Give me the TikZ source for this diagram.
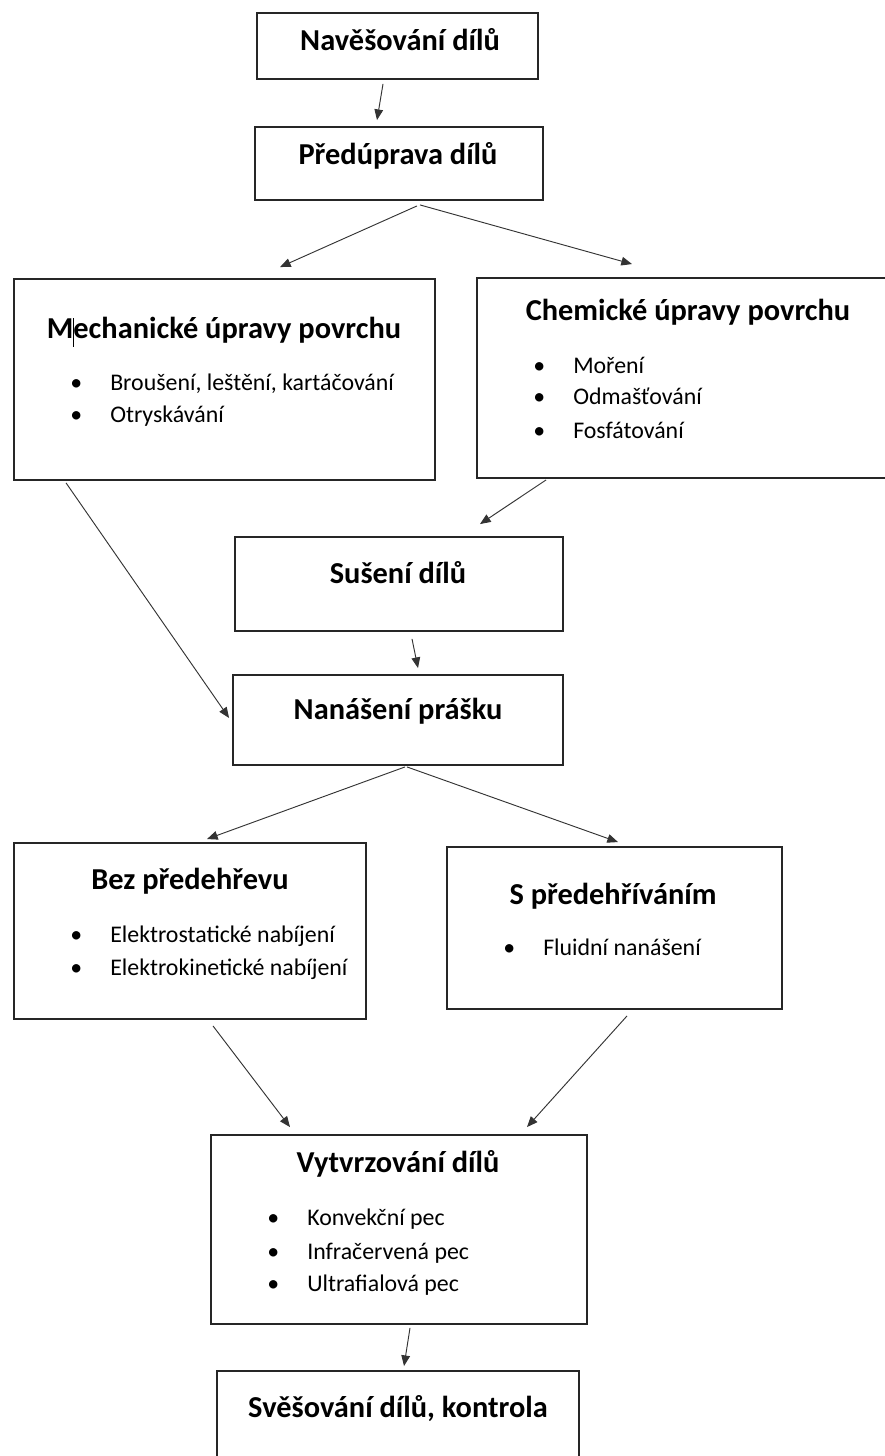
\documentclass[tikz,border=0pt]{standalone}
\usepackage{fontspec}
\setmainfont{Carlito}
\usetikzlibrary{arrows.meta,calc}

\tikzset{
	box/.style 2 args={draw=black!85, line width=1.4pt, inner sep=0pt, minimum width=#1*0.75pt, minimum height=#2*0.75pt},
	head/.style={font=\bfseries\fontsize{22.8}{27}\selectfont, inner sep=0pt, anchor=base},
	item/.style={font=\fontsize{17.9}{21}\selectfont, inner sep=0pt, anchor=base west},
	arr/.style={-{Triangle[length=8pt,width=6.5pt]}, draw=black!80, line width=0.7pt}
}
\newcommand{\itm}[1]{\llap{\makebox[0pt][c]{\textbullet}\hspace{25.5pt}}#1}

\begin{document}
\begin{tikzpicture}[x=0.75pt, y=-0.75pt]
		
		%Rahmen
		\useasboundingbox (0,0) rectangle (885,1456);
		\clip (0,0) rectangle (885,1456);
		
		%Kaesten
		\node[box={281}{66}]  (nav)  at (397.5,46)   {};
		\node[box={288}{73}]  (pred) at (399,163.5)  {};
		\node[box={421}{201}] (mech) at (224.5,379.5) {};
		\node[box={422}{200}] (chem) at (688,378)    {};
		\node[box={328}{94}]  (sus)  at (399,584)    {};
		\node[box={330}{90}]  (nan)  at (398,720)    {};
		\node[box={352}{176}] (bez)  at (190,931)    {};
		\node[box={335}{162}] (spre) at (614.5,928)  {};
		\node[box={376}{189}] (vyt)  at (399,1229.5) {};
		\node[box={362}{100}] (sves) at (398,1421)   {};
		
		%Ueberschriften
		\node[head] (navT)  at (400,50)   {Navěšování dílů};
		\node[head] (predT) at (398,164)  {Předúprava dílů};
		\node[head] (mechT) at (224,338)  {Mechanické úpravy povrchu};
		\node[head] (chemT) at (688,320)  {Chemické úpravy povrchu};
		\node[head] (susT)  at (398,583)  {Sušení dílů};
		\node[head] (nanT)  at (398,719)  {Nanášení prášku};
		\node[head] (bezT)  at (190,889)  {Bez předehřevu};
		\node[head] (spreT) at (613,904)  {S předehříváním};
		\node[head] (vytT)  at (398,1172) {Vytvrzování dílů};
		\node[head] (svesT) at (398,1417) {Svěšování dílů, kontrola};
		
		%Kurzor
		\draw[line width=0.6pt] (73,318) -- (73,347);
		
		%Aufzaehlungen
		\node[item] (mech1) at (110,390)  {\itm{Broušení, leštění, kartáčování}};
		\node[item] (mech2) at (110,422)  {\itm{Otryskávání}};
		\node[item] (chem1) at (573,373)  {\itm{Moření}};
		\node[item] (chem2) at (573,404)  {\itm{Odmašťování}};
		\node[item] (chem3) at (573,438)  {\itm{Fosfátování}};
		\node[item] (bez1)  at (110,942)  {\itm{Elektrostatické nabíjení}};
		\node[item] (bez2)  at (110,975)  {\itm{Elektrokinetické nabíjení}};
		\node[item] (spre1) at (543,955)  {\itm{Fluidní nanášení}};
		\node[item] (vyt1)  at (307,1225) {\itm{Konvekční pec}};
		\node[item] (vyt2)  at (307,1259) {\itm{Infračervená pec}};
		\node[item] (vyt3)  at (307,1291) {\itm{Ultrafialová pec}};
		
		%Pfeile
		\draw[arr] ($(nav.south)+(-14.5,4)$) -- ($(pred.north)+(-22,-6)$);
		\draw[arr] ($(pred.south)+(18,5)$) -- ($(mech.north)+(55.5,-11)$);
		\draw[arr] ($(pred.south)+(21,4)$) -- ($(chem.north)+(-56,-13)$);
		\draw[arr] ($(mech.south west)+(53,2)$) -- ($(nan.west)+(-3,-2)$);
		\draw[arr] ($(chem.south west)+(70,1)$) -- ($(sus.north)+(81,-12)$);
		\draw[arr] ($(sus.south)+(13,7)$) -- ($(nan.north)+(20,-6)$);
		\draw[arr] ($(nan.south)+(7,1)$) -- ($(bez.north)+(17,-3)$);
		\draw[arr] ($(nan.south)+(9,1)$) -- ($(spre.north)+(3.5,-4)$);
		\draw[arr] ($(bez.south)+(23,6)$) -- ($(vyt.north)+(-109,-7)$);
		\draw[arr] ($(spre.south)+(12.5,6)$) -- ($(vyt.north)+(128,-7)$);
		\draw[arr] ($(vyt.south)+(11,3)$) -- ($(sves.north)+(6,-4)$);
		
\end{tikzpicture}
\end{document}
